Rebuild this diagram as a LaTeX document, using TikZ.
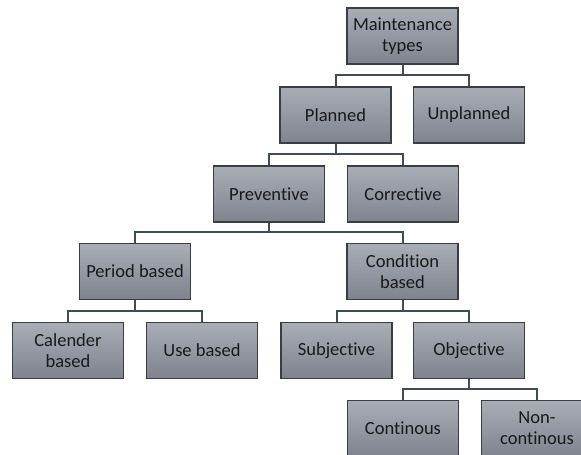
\documentclass[tikz,border=0pt]{standalone}
\usepackage{fontspec}
\setmainfont{Carlito}[Ligatures={NoCommon}]
\definecolor{boxtop}{HTML}{A9ADB6}
\definecolor{boxbot}{HTML}{7E838E}
\definecolor{boxline}{HTML}{3A3D43}
\definecolor{conn}{HTML}{3F4C5E}
\tikzset{
  tbox/.style={rectangle, draw=boxline, line width=1.3pt, top color=boxtop, bottom color=boxbot,
    minimum width=111pt, minimum height=56pt, inner sep=2pt, align=center,
    font=\fontsize{18.5}{21}\selectfont, text=black!90},
  link/.style={draw=conn, line width=2pt}
}
\begin{document}
\begin{tikzpicture}[x=1pt,y=-1pt]
\useasboundingbox (0,0) rectangle (581,455);
\clip (0,0) rectangle (581,455);
\node[tbox] (maint) at (402.5,36) {Maintenance\\types};
\node[tbox] (planned) at (335.5,115) {Planned};
\node[tbox] (unplanned) at (469,115) {Unplanned};
\node[tbox] (prev) at (269,194) {Preventive};
\node[tbox] (corr) at (403,194) {Corrective};
\node[tbox] (period) at (135,271.5) {Period based};
\node[tbox] (cond) at (402.5,271.5) {Condition\\based};
\node[tbox] (cal) at (68,350.5) {Calender\\based};
\node[tbox] (use) at (202,350.5) {Use based};
\node[tbox] (subj) at (336.5,350.5) {Subjective};
\node[tbox] (obj) at (469,350.5) {Objective};
\node[tbox] (cont) at (403,428.5) {Continous};
\node[tbox] (ncont) at (537,428.5) {Non-\\continous};
\coordinate (j1) at (0,75);
\coordinate (j2) at (0,154);
\coordinate (j3) at (0,232);
\coordinate (j4) at (0,311);
\coordinate (j5) at (0,311);
\coordinate (j6) at (0,389);
\draw[link] (maint.south) -- (maint.south |- j1) -| (planned.north);
\draw[link] (maint.south |- j1) -| (unplanned.north);
\draw[link] (planned.south) -- (planned.south |- j2) -| (prev.north);
\draw[link] (planned.south |- j2) -| (corr.north);
\draw[link] (prev.south) -- (prev.south |- j3) -| (period.north);
\draw[link] (prev.south |- j3) -| (cond.north);
\draw[link] (period.south) -- (period.south |- j4) -| (cal.north);
\draw[link] (period.south |- j4) -| (use.north);
\draw[link] (cond.south) -- (cond.south |- j5) -| (subj.north);
\draw[link] (cond.south |- j5) -| (obj.north);
\draw[link] (obj.south) -- (obj.south |- j6) -| (cont.north);
\draw[link] (obj.south |- j6) -| (ncont.north);
\end{tikzpicture}
\end{document}
